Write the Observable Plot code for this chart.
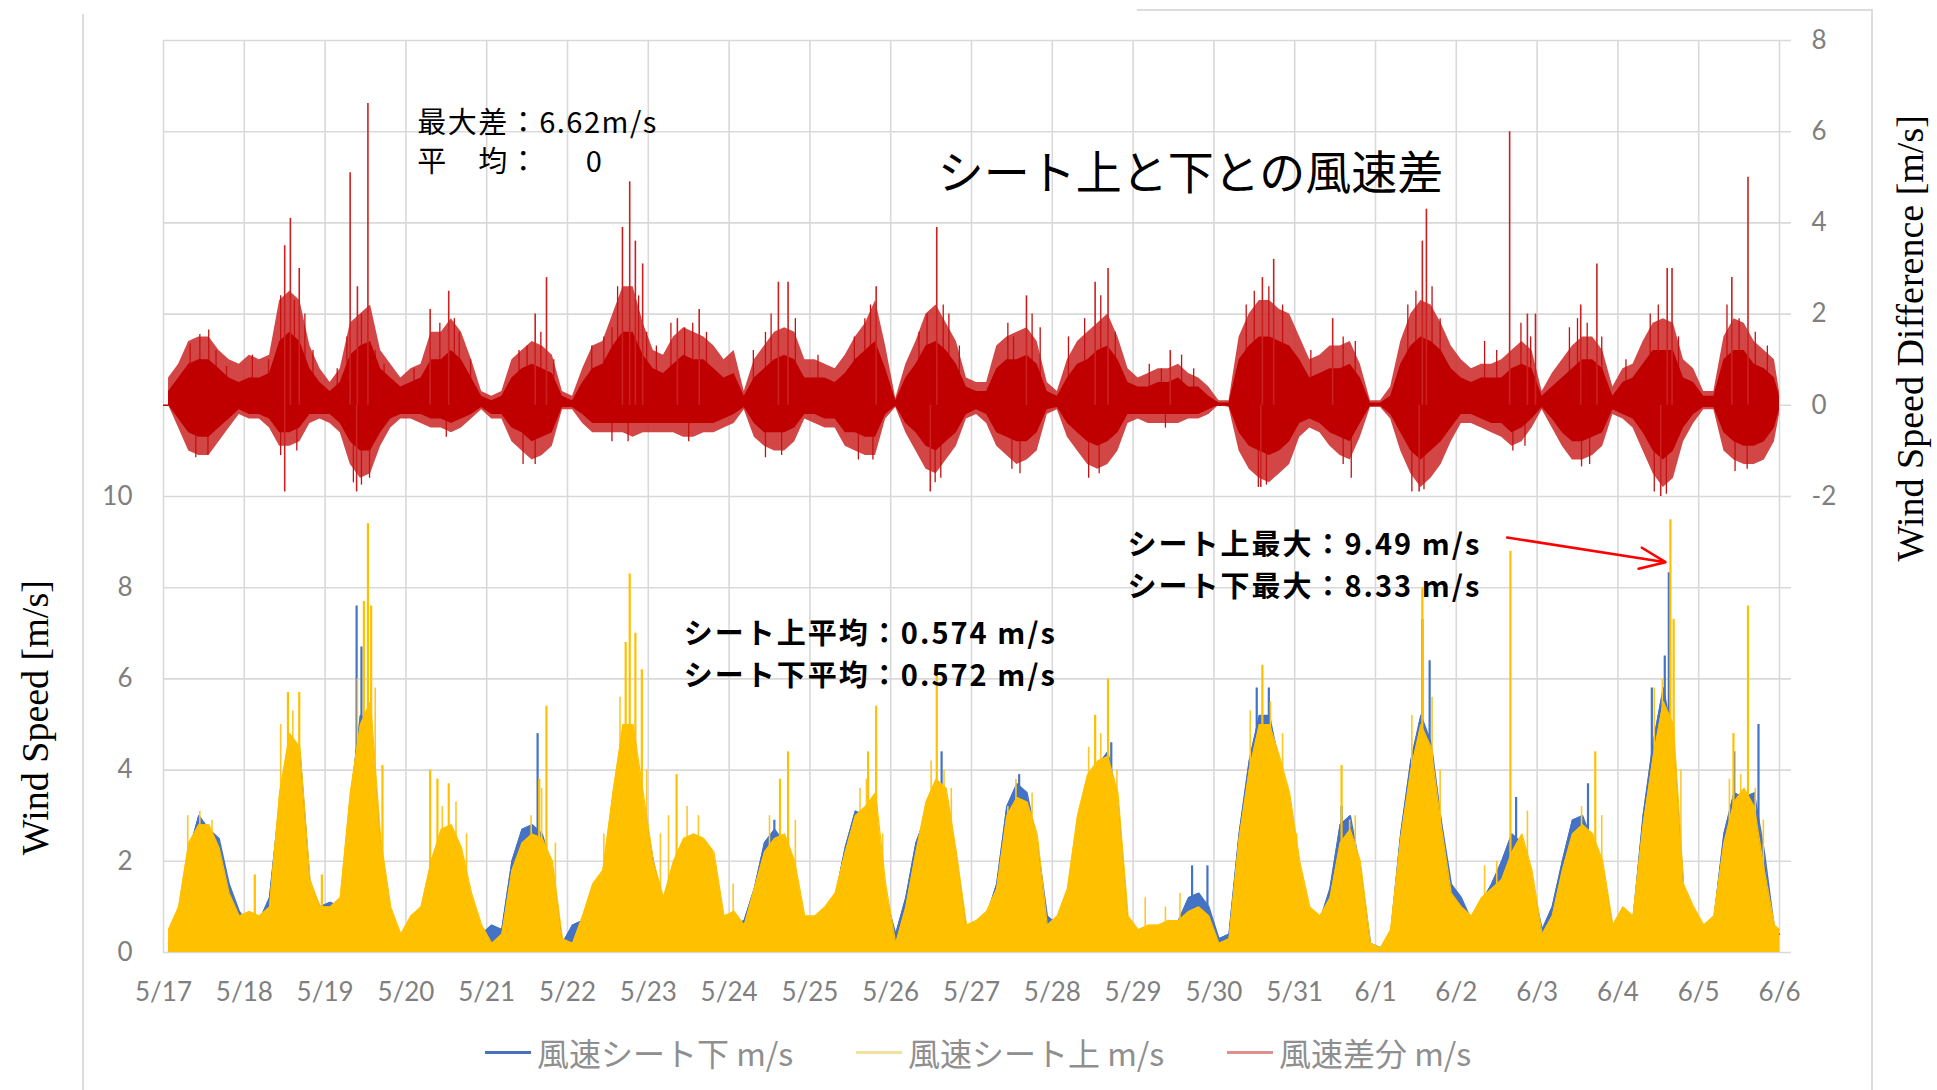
<!DOCTYPE html>
<html lang="ja">
<head>
<meta charset="utf-8">
<script src="https://cdn.jsdelivr.net/npm/d3@7"></script>
<script src="https://cdn.jsdelivr.net/npm/@observablehq/plot@0.6"></script>
<style>
  html, body { margin: 0; padding: 0; background: #fff; width: 1937px; height: 1090px; overflow: hidden; }
  #wrap { position: relative; width: 1937px; height: 1090px; }
  #chart { position: absolute; left: 0; top: 0; }
  .frame { position: absolute; background: #dcdcdc; }
  #legend { position: absolute; left: 0; top: 1025px; width: 1937px; height: 65px;
            font-family: "Noto Sans CJK JP", "Noto Sans", sans-serif; font-size: 32px; color: #8f8f8f; }
  .item { position: absolute; top: 4px; display: flex; align-items: center; gap: 6px; white-space: nowrap; }
  .sw { display: inline-block; width: 46px; height: 3px; }
  .spaced { letter-spacing: 2px; }
  .spaced1 { letter-spacing: 1.5px; }
</style>
</head>
<body>
<div id="wrap">
  <div class="frame" style="left:82px; top:14px; width:2px; height:1076px;"></div>
  <div class="frame" style="left:1137px; top:9px; width:736px; height:2px;"></div>
  <div class="frame" style="left:1871px; top:9px; width:2px; height:1081px;"></div>
  <div id="chart"></div>
  <div id="legend"></div>
</div>
<script>
// ---------- data (3-hour bins; last value = 6/6 end) ----------
const dateLabels = ["5/17","5/18","5/19","5/20","5/21","5/22","5/23","5/24","5/25","5/26",
  "5/27","5/28","5/29","5/30","5/31","6/1","6/2","6/3","6/4","6/5","6/6"];

// wind speed difference (upper - lower): outer extent of the thin lines, m/s
const diffHigh = [
  0.6,0.9,1.4,1.5,1.5,1.2,1.0,0.9,   // 5/17
  1.1,1.0,1.1,2.3,2.5,2.3,1.3,0.8,   // 5/18
  0.5,0.8,1.8,2.0,2.2,1.2,0.9,0.6,   // 5/19
  0.8,0.9,1.6,1.6,1.9,1.6,1.0,0.3,   // 5/20
  0.2,0.3,1.0,1.2,1.4,1.3,1.1,0.3,   // 5/21
  0.2,0.8,1.3,1.4,2.0,2.6,2.6,1.8,   // 5/22
  1.2,1.1,1.5,1.7,1.6,1.5,1.3,1.0,   // 5/23
  1.2,0.3,1.0,1.3,1.6,1.7,1.6,1.0,   // 5/24
  1.0,0.9,0.8,1.1,1.5,1.8,2.3,1.3,   // 5/25
  0.15,0.9,1.4,2.0,2.2,1.8,1.4,0.6,  // 5/26
  0.5,0.5,1.3,1.5,1.6,1.7,1.4,0.5,   // 5/27
  0.3,1.0,1.4,1.6,1.8,2.0,1.5,0.8,   // 5/28
  0.6,0.7,0.8,0.8,0.9,0.7,0.6,0.4,   // 5/29
  0.1,0.1,1.5,2.0,2.3,2.3,2.1,2.0,   // 5/30
  1.5,1.0,1.1,1.3,1.3,1.4,0.9,0.1,   // 5/31
  0.1,0.4,1.4,2.0,2.3,2.2,1.8,1.3,   // 6/1
  1.0,0.8,0.9,0.9,1.0,1.2,1.4,1.2,   // 6/2
  0.3,0.7,1.0,1.3,1.5,1.5,1.2,0.4,   // 6/3
  0.8,0.9,1.4,1.8,1.9,1.8,1.0,0.8,   // 6/4
  0.3,0.3,1.5,1.9,1.8,1.4,1.2,1.0,   // 6/5
  0.3                                // 6/6
];
const diffLow = [
  0,-0.5,-1.0,-1.1,-1.1,-0.8,-0.5,-0.2,
  -0.3,-0.3,-0.5,-0.9,-0.9,-0.8,-0.4,-0.3,
  -0.4,-0.6,-1.3,-1.6,-1.5,-0.9,-0.5,-0.3,
  -0.3,-0.4,-0.5,-0.5,-0.6,-0.5,-0.3,-0.1,
  -0.3,-0.3,-0.8,-1.0,-1.2,-1.1,-0.9,-0.1,
  -0.1,-0.4,-0.6,-0.6,-0.6,-0.6,-0.7,-0.6,
  -0.6,-0.6,-0.6,-0.7,-0.7,-0.6,-0.6,-0.5,
  -0.4,-0.1,-0.7,-0.9,-1.0,-1.0,-0.8,-0.3,
  -0.4,-0.5,-0.5,-0.9,-1.0,-1.1,-1.1,-0.3,
  -0.05,-0.6,-1.0,-1.4,-1.5,-1.2,-0.9,-0.3,
  -0.2,-0.4,-0.9,-1.1,-1.3,-1.2,-1.0,-0.2,
  -0.1,-0.7,-1.0,-1.3,-1.4,-1.3,-1.0,-0.4,
  -0.3,-0.4,-0.4,-0.4,-0.4,-0.3,-0.3,-0.2,
  0,-0.05,-1.0,-1.4,-1.6,-1.7,-1.5,-1.3,
  -0.7,-0.5,-0.6,-0.9,-1.1,-1.2,-0.7,-0.05,
  -0.05,-0.3,-1.0,-1.5,-1.8,-1.6,-1.3,-0.8,
  -0.4,-0.4,-0.5,-0.6,-0.7,-0.9,-0.8,-0.5,
  -0.1,-0.5,-0.9,-1.2,-1.2,-1.1,-0.9,-0.2,
  -0.3,-0.5,-1.0,-1.5,-1.8,-1.6,-0.8,-0.4,
  -0.1,-0.1,-1.0,-1.2,-1.3,-1.3,-1.2,-0.8,
  -0.2
];
// wind speed difference: dense (solid) core of the band, m/s
const diffCoreHigh = [
  0.3,0.6,0.9,1.0,1.0,0.8,0.6,0.5,
  0.6,0.6,0.7,1.4,1.6,1.4,0.8,0.5,
  0.3,0.5,1.1,1.3,1.4,0.8,0.6,0.4,
  0.5,0.6,1.0,1.0,1.2,1.0,0.6,0.2,
  0.1,0.2,0.6,0.8,0.9,0.8,0.7,0.2,
  0.1,0.5,0.8,0.9,1.3,1.6,1.6,1.1,
  0.8,0.7,0.9,1.1,1.0,1.0,0.8,0.6,
  0.7,0.2,0.6,0.8,1.0,1.1,1.0,0.6,
  0.6,0.6,0.5,0.7,1.0,1.2,1.4,0.8,
  0.1,0.6,0.9,1.3,1.4,1.2,0.9,0.4,
  0.3,0.3,0.8,1.0,1.0,1.1,0.9,0.3,
  0.2,0.6,0.9,1.0,1.2,1.3,1.0,0.5,
  0.4,0.4,0.5,0.5,0.6,0.4,0.4,0.2,
  0.05,0.05,1.0,1.3,1.5,1.5,1.4,1.3,
  1.0,0.6,0.7,0.8,0.8,0.9,0.6,0.05,
  0.05,0.2,0.9,1.3,1.5,1.4,1.2,0.8,
  0.6,0.5,0.6,0.6,0.6,0.8,0.9,0.8,
  0.2,0.4,0.6,0.8,1.0,1.0,0.8,0.2,
  0.5,0.6,0.9,1.2,1.2,1.2,0.6,0.5,
  0.2,0.2,1.0,1.2,1.2,0.9,0.8,0.6,
  0.2
];
const diffCoreLow = [
  0,-0.3,-0.6,-0.7,-0.7,-0.5,-0.3,-0.1,
  -0.2,-0.2,-0.3,-0.6,-0.6,-0.5,-0.2,-0.2,
  -0.2,-0.4,-0.8,-1.0,-1.0,-0.6,-0.3,-0.2,
  -0.2,-0.2,-0.3,-0.3,-0.4,-0.3,-0.2,-0.05,
  -0.2,-0.2,-0.5,-0.6,-0.8,-0.7,-0.6,-0.05,
  -0.05,-0.2,-0.4,-0.4,-0.4,-0.4,-0.4,-0.4,
  -0.4,-0.4,-0.4,-0.4,-0.4,-0.4,-0.4,-0.3,
  -0.2,-0.05,-0.4,-0.6,-0.6,-0.6,-0.5,-0.2,
  -0.2,-0.3,-0.3,-0.6,-0.6,-0.7,-0.7,-0.2,
  -0.02,-0.4,-0.6,-0.9,-1.0,-0.8,-0.6,-0.2,
  -0.1,-0.2,-0.6,-0.7,-0.8,-0.8,-0.6,-0.1,
  -0.05,-0.4,-0.6,-0.8,-0.9,-0.8,-0.6,-0.2,
  -0.2,-0.2,-0.2,-0.2,-0.2,-0.2,-0.2,-0.1,
  0,-0.02,-0.6,-0.9,-1.0,-1.1,-1.0,-0.8,
  -0.4,-0.3,-0.4,-0.6,-0.7,-0.8,-0.4,-0.02,
  -0.02,-0.2,-0.6,-1.0,-1.2,-1.0,-0.8,-0.5,
  -0.2,-0.2,-0.3,-0.4,-0.4,-0.6,-0.5,-0.3,
  -0.05,-0.3,-0.6,-0.8,-0.8,-0.7,-0.6,-0.1,
  -0.2,-0.3,-0.6,-1.0,-1.2,-1.0,-0.5,-0.2,
  -0.05,-0.05,-0.6,-0.8,-0.9,-0.9,-0.8,-0.5,
  -0.1
];
// wind speed above the sheet (yellow), m/s
const speedUpper = [
  0.5,1.0,2.4,2.8,2.8,2.3,1.3,0.8,
  0.9,0.8,1.0,3.5,4.8,4.5,1.6,1.0,
  1.0,1.2,3.5,5.0,5.5,2.5,1.0,0.4,
  0.8,1.0,2.0,2.7,2.8,2.3,1.3,0.6,
  0.2,0.4,1.8,2.4,2.6,2.5,2.0,0.3,
  0.2,0.8,1.5,1.8,3.5,5.0,5.0,3.5,
  2.0,1.2,2.0,2.5,2.6,2.5,2.2,0.8,
  0.9,0.6,1.4,2.2,2.5,2.6,2.0,0.8,
  0.8,1.0,1.3,2.2,3.0,3.2,3.5,1.5,
  0.2,1.0,2.2,3.3,3.8,3.6,2.2,0.6,
  0.7,0.9,1.4,3.0,3.4,3.3,2.6,0.6,
  0.8,1.4,3.0,3.9,4.2,4.3,3.5,0.8,
  0.5,0.6,0.6,0.7,0.7,0.9,1.0,0.8,
  0.2,0.3,2.5,4.0,5.0,5.0,4.3,3.5,
  2.0,1.0,0.8,1.2,2.4,2.7,2.0,0.2,
  0.1,0.5,2.5,4.0,5.0,4.5,2.8,1.3,
  1.0,0.8,1.2,1.4,1.6,2.2,2.6,1.8,
  0.4,0.8,1.8,2.6,2.8,2.6,2.0,0.6,
  1.0,0.8,2.8,4.3,5.5,5.0,1.5,1.0,
  0.6,0.8,2.4,3.3,3.6,3.2,1.8,0.6,
  0.5
];
// wind speed below the sheet (blue), m/s
const speedLower = [
  0.2,0.8,2.2,3.0,2.7,2.5,1.5,0.9,
  0.6,0.7,1.2,3.3,4.6,4.4,1.5,1.0,
  1.1,1.0,3.3,5.2,5.0,2.3,0.8,0.3,
  0.5,0.7,1.6,2.3,2.4,2.0,1.0,0.4,
  0.6,0.5,2.0,2.7,2.8,2.6,1.8,0.2,
  0.6,0.7,1.4,1.7,3.2,4.6,4.5,3.2,
  2.0,1.0,1.8,2.2,2.3,2.2,2.0,0.6,
  0.6,0.7,1.4,2.4,2.7,2.4,1.8,0.5,
  0.6,0.8,1.2,2.3,3.1,3.0,3.0,1.2,
  0.4,1.2,2.4,3.0,3.6,3.4,2.0,0.5,
  0.6,0.8,1.5,3.2,3.7,3.5,2.4,0.8,
  0.6,1.2,2.8,3.7,4.1,4.4,3.2,0.6,
  0.3,0.4,0.5,0.5,0.7,1.2,1.3,1.0,
  0.3,0.4,2.6,4.2,5.2,5.2,4.1,3.3,
  1.8,0.8,0.7,1.4,2.8,3.0,1.8,0.2,
  0.1,0.4,2.6,4.2,5.2,4.6,2.9,1.5,
  1.2,0.7,1.1,1.5,2.0,2.6,2.4,1.5,
  0.5,1.0,2.0,2.9,3.0,2.4,1.8,0.5,
  0.8,0.7,3.0,4.6,5.8,4.6,1.4,0.8,
  0.5,0.7,2.6,3.5,3.4,3.5,2.2,0.5,
  0.4
];
// isolated tall peaks: [day offset from 5/17, value]
const diffSpikes = [
  [1.50,3.5],[1.57,4.1],[1.68,3.0],[2.31,5.1],[2.40,2.6],[2.53,6.62],[3.30,2.1],[3.53,2.5],
  [4.60,2.0],[4.74,2.8],[5.68,3.9],[5.77,4.9],[5.84,3.6],[5.93,3.1],[6.36,1.9],[6.63,2.1],
  [7.61,2.7],[7.73,2.7],[8.82,2.6],[9.57,3.9],[10.68,2.4],[11.53,2.7],[11.69,3.0],[12.46,1.2],
  [13.60,2.8],[13.74,3.2],[14.47,1.9],[15.58,3.6],[15.63,4.3],[16.66,6.0],[16.88,2.0],[16.98,2.0],
  [17.54,2.2],[17.74,3.1],[18.61,3.0],[18.67,3.0],[19.41,2.8],[19.61,5.0],
  [1.50,-1.9],[2.39,-1.9],[9.49,-1.9],[13.58,-1.8],[15.54,-1.9],[18.53,-2.0]
];
// smaller thin peaks along the edge of the band
const diffMinor = [
  [0.33,1.35],[0.45,1.55],[0.56,1.65],[0.65,1.2],[0.78,0.85],[1.10,1.1],[1.30,1.0],[1.45,2.4],
  [1.62,2.3],[1.75,2.0],[1.85,1.2],[2.15,0.8],[2.27,1.5],[2.45,2.0],[2.62,1.2],[2.73,0.9],
  [3.10,0.8],[3.42,1.8],[3.60,1.9],[3.66,1.6],[3.80,1.0],[4.40,1.2],[4.50,1.3],[4.67,1.6],
  [4.83,1.0],[5.30,1.3],[5.45,1.5],[5.55,1.7],[5.62,2.6],[5.88,2.4],[5.98,1.6],[6.10,1.3],
  [6.28,1.8],[6.45,1.7],[6.55,1.8],[6.72,1.6],[7.30,1.2],[7.45,1.6],[7.52,2.0],[7.82,1.9],
  [8.10,1.1],[8.55,1.5],[8.68,1.9],[8.75,2.2],[9.35,1.6],[9.45,2.0],[9.65,2.2],[9.72,2.0],
  [9.85,1.3],[10.45,1.8],[10.52,1.5],[10.75,2.0],[10.85,1.7],[11.20,1.5],[11.40,1.9],[11.60,2.4],
  [11.78,1.6],[12.20,0.9],[12.35,0.8],[12.60,1.1],[12.75,0.8],[13.40,2.2],[13.50,2.5],[13.68,2.6],
  [13.85,2.2],[14.20,1.2],[14.60,1.5],[14.75,1.4],[15.40,2.2],[15.50,2.5],[15.70,2.6],[15.80,1.9],
  [16.35,1.4],[16.50,1.2],[16.80,1.8],[16.92,1.5],[17.40,1.7],[17.50,1.9],[17.62,1.8],[17.80,1.5],
  [18.10,1.0],[18.40,2.0],[18.50,2.2],[18.75,1.5],[19.35,2.2],[19.50,1.9],[19.70,1.6],[19.85,1.3],
  [0.40,-1.15],[0.55,-1.1],[1.45,-1.1],[1.65,-1.0],[2.35,-1.7],[2.45,-1.75],[2.55,-1.6],[3.50,-0.7],
  [4.45,-1.3],[4.60,-1.3],[5.55,-0.8],[5.75,-0.8],[6.50,-0.8],[7.45,-1.15],[7.65,-1.1],[8.60,-1.2],
  [8.78,-1.2],[9.55,-1.7],[9.62,-1.6],[10.50,-1.4],[10.60,-1.5],[11.45,-1.6],[11.58,-1.5],[12.40,-0.5],
  [13.55,-1.8],[13.65,-1.75],[14.60,-1.3],[14.70,-1.6],[15.45,-1.9],[15.60,-1.85],[16.70,-1.0],
  [16.85,-0.9],[17.55,-1.35],[17.65,-1.3],[18.45,-1.9],[18.60,-1.95],[19.45,-1.45],[19.60,-1.4]
];
const upperSpikes = [
  [1.13,1.7],[1.54,5.7],[1.68,5.7],[1.96,1.7],[2.48,7.7],[2.53,9.4],[2.57,7.6],[2.71,4.1],
  [3.30,4.0],[3.39,3.8],[3.53,3.7],[4.65,3.8],[4.74,5.4],[5.72,6.8],[5.77,8.3],[5.84,7.0],
  [5.92,6.2],[6.35,3.9],[7.63,3.8],[7.73,4.4],[8.72,4.4],[8.82,5.4],[9.57,6.1],[11.53,5.2],
  [11.69,6.0],[13.60,6.3],[14.02,2.6],[14.58,4.1],[15.58,8.0],[16.67,8.8],[17.72,4.4],
  [18.65,9.49],[18.69,7.3],[19.43,4.8],[19.61,7.6]
];
const upperMinor = [
  [0.30,3.0],[0.45,3.1],[0.60,2.9],[1.45,5.0],[1.60,5.3],[2.40,6.0],[2.62,5.8],[3.45,3.2],
  [3.62,3.3],[3.75,2.6],[4.55,3.0],[4.68,3.6],[4.85,2.4],[5.45,2.6],[5.55,3.3],[5.65,5.6],
  [5.98,4.0],[6.15,2.6],[6.25,3.0],[6.48,3.2],[6.62,3.0],[7.05,1.5],[7.50,3.0],[7.82,2.9],
  [8.62,3.6],[8.70,3.8],[8.90,2.6],[9.50,4.2],[9.66,4.0],[9.75,3.6],[10.45,3.2],[10.55,3.8],
  [10.75,3.5],[11.45,4.5],[11.60,4.8],[11.80,4.0],[12.15,1.2],[12.40,1.0],[12.58,1.3],[13.45,5.3],
  [13.70,5.5],[13.85,4.8],[14.68,2.9],[14.75,3.0],[15.45,5.2],[15.70,5.6],[15.80,4.0],[16.35,1.9],
  [16.50,2.0],[16.88,3.1],[17.55,3.2],[17.80,3.0],[18.45,5.8],[18.55,6.0],[18.78,4.0],[19.38,3.8],
  [19.52,3.9],[19.70,3.6],[19.80,2.9]
];
const lowerSpikes = [
  [2.39,7.6],[2.45,6.7],[4.63,4.8],[7.56,2.9],[9.63,4.4],[10.59,3.9],[11.73,4.6],[12.73,1.9],
  [12.92,1.9],[13.53,5.8],[13.68,5.8],[14.58,3.2],[15.58,7.3],[15.67,6.4],[16.74,3.4],
  [17.63,3.7],[18.42,5.8],[18.58,6.5],[18.63,8.33],[19.44,4.4],[19.74,5.0]
];
const leftTicks = [0, 2, 4, 6, 8, 10];
const rightTicks = [-2, 0, 2, 4, 6, 8];
const legendItems = ["風速シート下 m/s", "風速シート上 m/s", "風速差分 m/s"];

// ---------- chart ----------
const DIFF_ZERO = 12; // right-axis 0 sits at left-axis 12 (right axis spans -12..8)
const rows = diffHigh.map((_, i) => ({
  t: Math.min((i + 0.5) / 8, 20),
  hi: diffHigh[i] + DIFF_ZERO,
  lo: diffLow[i] + DIFF_ZERO,
  coreHi: diffCoreHigh[i] + DIFF_ZERO,
  coreLo: diffCoreLow[i] + DIFF_ZERO,
  up: speedUpper[i],
  down: speedLower[i]
}));

const RED = "#c00000", YEL = "#ffc000", BLU = "#4472c4";
const tickFont = "Lato, 'Noto Sans', sans-serif";
const jp = "'Noto Sans CJK JP', 'Noto Sans', sans-serif";
const serif = "'Liberation Serif', serif";

const chart = Plot.plot({
  width: 1937,
  height: 1025,
  marginLeft: 163,
  marginRight: 158,
  marginTop: 40,
  marginBottom: 73,
  x: {domain: [0, 20]},
  y: {domain: [0, 20]},
  style: {fontFamily: tickFont, background: "transparent", overflow: "visible"},
  marks: [
    Plot.ruleX(d3.range(0, dateLabels.length), {stroke: "#d9d9d9", strokeWidth: 1.6}),
    Plot.ruleY(d3.range(0, 21, 2), {stroke: "#d9d9d9", strokeWidth: 1.6, insetRight: -12}),

    // difference series (right axis): thin-line fringe, then dense core
    Plot.ruleY([DIFF_ZERO], {stroke: RED, strokeWidth: 1.5}),
    Plot.areaY(rows, {x: "t", y1: "lo", y2: "hi", fill: "#cc2828", fillOpacity: 0.86}),
    Plot.ruleX(diffMinor, {x: d => d[0], y1: DIFF_ZERO, y2: d => d[1] + DIFF_ZERO, stroke: "#c41010", strokeWidth: 1.3}),
    Plot.areaY(rows, {x: "t", y1: "coreLo", y2: "coreHi", fill: RED}),
    Plot.ruleX(diffSpikes, {x: d => d[0], y1: DIFF_ZERO, y2: d => d[1] + DIFF_ZERO, stroke: "#cc2020", strokeWidth: 1.6}),

    // lower-sheet wind speed (blue), then upper (yellow) on top
    Plot.areaY(rows, {x: "t", y: "down", fill: BLU}),
    Plot.line(rows, {x: "t", y: "down", stroke: BLU, strokeWidth: 1.5}),
    Plot.ruleX(lowerSpikes, {x: d => d[0], y1: 0, y2: d => d[1], stroke: BLU, strokeWidth: 2.2}),
    Plot.ruleX(upperMinor, {x: d => d[0], y1: 0, y2: d => d[1], stroke: "#ffc62a", strokeWidth: 1.6}),
    Plot.areaY(rows, {x: "t", y: "up", fill: YEL}),
    Plot.line(rows, {x: "t", y: "up", stroke: YEL, strokeWidth: 1.2}),
    Plot.ruleX(upperSpikes, {x: d => d[0], y1: 0, y2: d => d[1], stroke: YEL, strokeWidth: 2.2}),

    // axes
    Plot.axisX({ticks: d3.range(0, dateLabels.length), tickFormat: i => dateLabels[i], tickSize: 0,
      tickPadding: 30, fontSize: 26, fill: "#7f7f7f", label: null}),
    Plot.axisY({anchor: "left", ticks: leftTicks, tickSize: 0, tickPadding: 31, fontSize: 26,
      fill: "#7f7f7f", label: null}),
    Plot.axisY({anchor: "right", ticks: rightTicks.map(v => v + DIFF_ZERO), tickFormat: v => String(v - DIFF_ZERO),
      tickSize: 0, tickPadding: 32, fontSize: 26, fill: "#7f7f7f", label: null}),

    // axis titles
    Plot.text(["Wind Speed [m/s]"], {x: -1.584, y: 5.15, rotate: -90,
      fontSize: 38, fontFamily: serif, fill: "#000"}),
    Plot.text(["Wind Speed Difference [m/s]"], {x: 21.63, y: 13.47, rotate: -90,
      fontSize: 38, fontFamily: serif, fill: "#000"}),

    // annotations
    Plot.text(["シート上と下との風速差"], {x: 12.71, y: 17.07, fontSize: 46, fontFamily: jp, fill: "#000"}),
    Plot.text(["最大差：6.62m/s\n平　均：　\u20020"], {x: 3.14, y: 17.82, textAnchor: "start", lineHeight: 1.36,
      fontSize: 29, fontFamily: jp, fill: "#000", className: "spaced1"}),
    Plot.text(["シート上最大：9.49 m/s\nシート下最大：8.33 m/s"], {x: 11.93, y: 8.56, textAnchor: "start", lineHeight: 1.45,
      fontSize: 29, fontWeight: "bold", fontFamily: jp, fill: "#000", className: "spaced"}),
    Plot.text(["シート上平均：0.574 m/s\nシート下平均：0.572 m/s"], {x: 6.44, y: 6.6, textAnchor: "start", lineHeight: 1.45,
      fontSize: 29, fontWeight: "bold", fontFamily: jp, fill: "#000", className: "spaced"}),
    Plot.arrow([0], {x1: 16.63, y1: 9.1, x2: 18.59, y2: 8.56, stroke: "#ff0000", strokeWidth: 2.6,
      headLength: 16, headAngle: 45, bend: 0})
  ]
});
document.getElementById("chart").appendChild(chart);

// ---------- legend (below the SVG) ----------
const legendColors = ["#4a70c0", "#f2e2a0", "#de9090"];
const legendLeft = [485, 856, 1227];
const legend = document.getElementById("legend");
legendItems.forEach((label, i) => {
  const item = document.createElement("div");
  item.className = "item";
  item.style.left = legendLeft[i] + "px";
  const sw = document.createElement("span");
  sw.className = "sw";
  sw.style.background = legendColors[i];
  const tx = document.createElement("span");
  tx.textContent = label;
  item.appendChild(sw);
  item.appendChild(tx);
  legend.appendChild(item);
});
</script>
</body>
</html>
